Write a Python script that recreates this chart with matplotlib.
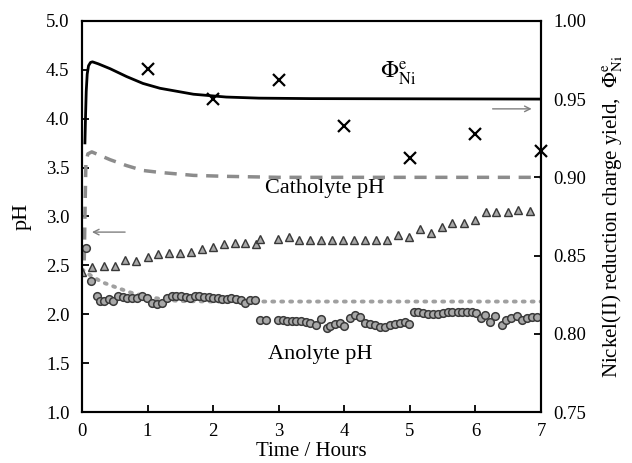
import matplotlib
matplotlib.use('Agg')
import matplotlib.pyplot as plt
import numpy as np

plt.rcParams['font.family'] = ['Liberation Serif', 'DejaVu Serif']
plt.rcParams['mathtext.fontset'] = 'stix'

# Catholyte pH (triangles)
cath_t = [0, 0.16, 0.33, 0.50, 0.66, 0.83, 1.0, 1.16, 1.33, 1.5, 1.66, 1.83, 2.0, 2.16,
          2.33, 2.49, 2.66, 2.71, 2.99, 3.16, 3.31, 3.48, 3.65, 3.81, 3.98, 4.15, 4.31,
          4.48, 4.65, 4.82, 4.98, 5.16, 5.32, 5.49, 5.65, 5.82, 5.99, 6.16, 6.32, 6.49,
          6.65, 6.83]
cath_ph = [2.435, 2.48, 2.49, 2.49, 2.55, 2.54, 2.59, 2.62, 2.63, 2.63, 2.64, 2.67, 2.69,
           2.72, 2.73, 2.73, 2.72, 2.77, 2.77, 2.79, 2.76, 2.76, 2.76, 2.76, 2.76, 2.76,
           2.76, 2.76, 2.76, 2.81, 2.79, 2.87, 2.83, 2.89, 2.93, 2.93, 2.96, 3.05, 3.05,
           3.05, 3.07, 3.06]

# Anolyte pH (circles)
ano_t = [0.066, 0.14, 0.23, 0.27, 0.34, 0.41, 0.48, 0.55, 0.62, 0.69, 0.76, 0.84, 0.92,
         0.99, 1.07, 1.14, 1.22, 1.29, 1.37, 1.44, 1.51, 1.58, 1.65, 1.72, 1.79, 1.86,
         1.93, 2.00, 2.07, 2.14, 2.21, 2.28, 2.35, 2.42, 2.48, 2.56, 2.64, 2.71, 2.80,
         2.99, 3.06, 3.13, 3.20, 3.27, 3.34, 3.41, 3.48, 3.57, 3.65, 3.73, 3.79, 3.86,
         3.93, 3.99, 4.08, 4.16, 4.24, 4.31, 4.39, 4.47, 4.55, 4.62, 4.70, 4.78, 4.85,
         4.93, 4.99, 5.06, 5.13, 5.20, 5.28, 5.36, 5.43, 5.51, 5.58, 5.65, 5.73, 5.80,
         5.87, 5.95, 6.01, 6.08, 6.15, 6.23, 6.30, 6.41, 6.47, 6.55, 6.63, 6.71, 6.78,
         6.86, 6.94]
ano_ph = [2.68, 2.34, 2.19, 2.14, 2.14, 2.16, 2.14, 2.19, 2.18, 2.17, 2.17, 2.17, 2.19,
          2.17, 2.12, 2.11, 2.12, 2.17, 2.19, 2.19, 2.19, 2.18, 2.17, 2.19, 2.19, 2.18,
          2.18, 2.17, 2.17, 2.16, 2.16, 2.17, 2.16, 2.15, 2.12, 2.15, 2.15, 1.94, 1.94,
          1.94, 1.94, 1.93, 1.93, 1.93, 1.93, 1.92, 1.91, 1.89, 1.95, 1.86, 1.88, 1.90,
          1.91, 1.88, 1.96, 1.99, 1.97, 1.91, 1.90, 1.89, 1.87, 1.87, 1.89, 1.90, 1.91,
          1.92, 1.90, 2.02, 2.02, 2.01, 2.00, 2.00, 2.00, 2.01, 2.02, 2.02, 2.02, 2.02,
          2.02, 2.02, 2.01, 1.96, 1.99, 1.92, 1.98, 1.89, 1.94, 1.96, 1.98, 1.94, 1.96,
          1.97, 1.97]

# Measured Ni(II) reduction charge yield (crosses, right axis)
phi_t = [1, 2, 3, 4, 5, 6, 7]
phi_meas = [0.969, 0.950, 0.9625, 0.933, 0.9125, 0.9275, 0.917]

# Model curve for charge yield (solid, right axis)
phi_mod_t = [0.045, 0.055, 0.065, 0.08, 0.1, 0.13, 0.16, 0.25, 0.43, 0.68, 0.93, 1.19,
             1.7, 2.2, 2.7, 3.5, 7]
phi_mod = [0.922, 0.940, 0.955, 0.966, 0.9713, 0.9734, 0.9738, 0.9725, 0.9694, 0.9644,
           0.960, 0.9569, 0.9531, 0.9513, 0.9506, 0.9503, 0.950]

# Model curve, catholyte (dashed, left axis)
cath_mod_t = [0.035, 0.045, 0.06, 0.09, 0.15, 0.43, 0.68, 0.93, 1.19, 1.7, 2.2, 3.0, 7]
cath_mod = [2.55, 3.0, 3.55, 3.64, 3.66, 3.58, 3.52, 3.47, 3.45, 3.42, 3.41, 3.40, 3.40]

# Model curve, anolyte (dotted, left axis)
ano_mod_t = [0, 0.1, 0.2, 0.3, 0.5, 0.75, 1.0, 1.25, 1.5, 2.0, 3.0, 7]
ano_mod = [2.46, 2.41, 2.37, 2.33, 2.28, 2.22, 2.18, 2.15, 2.135, 2.13, 2.13, 2.13]

fig = plt.figure(figsize=(6.32, 4.63), dpi=100)
ax = fig.add_axes([0.1297, 0.110, 0.7263, 0.845])
ax2 = ax.twinx()

ax.plot(cath_mod_t, cath_mod, color='#8c8c8c', lw=2.5, linestyle=(0, (3.5, 2.5)))
ax.plot(ano_mod_t, ano_mod, color='#a0a0a0', lw=2.8, linestyle=(0, (0.5, 1.8)),
        dash_capstyle='round')
ax.plot(cath_t, cath_ph, linestyle='none', marker='^', ms=6, mfc='#a8a8a8',
        mec='#383838', mew=1.0)
ax.plot(ano_t, ano_ph, linestyle='none', marker='o', ms=5.5, mfc='#a8a8a8',
        mec='#3a3a3a', mew=1.1)

ax2.plot(phi_mod_t, phi_mod, color='black', lw=2.0)
ax2.plot(phi_t, phi_meas, linestyle='none', marker='x', ms=9, mew=1.6, color='black',
         clip_on=False)

ax.set_xlim(0, 7)
ax.set_ylim(1.0, 5.0)
ax2.set_ylim(0.75, 1.00)
ax.set_xticks(np.arange(0, 8, 1))
ax.set_yticks(np.arange(1.0, 5.01, 0.5))
ax2.set_yticks(np.arange(0.75, 1.001, 0.05))
ax.set_yticklabels([f'{v:.1f}' for v in np.arange(1.0, 5.01, 0.5)])
ax2.set_yticklabels([f'{v:.2f}' for v in np.arange(0.75, 1.001, 0.05)])

for a in (ax, ax2):
    a.tick_params(direction='in', length=5, width=1.3, labelsize=13.5, pad=9)
    for s in a.spines.values():
        s.set_linewidth(1.5)
ax.tick_params(axis='x', pad=8)

ax.set_xlabel('Time / Hours', fontsize=15, labelpad=1)
ax.set_ylabel('pH', fontsize=16, labelpad=10)
ax2.set_ylabel(r'Nickel(II) reduction charge yield,  $\Phi^{\mathrm{e}}_{\mathrm{Ni}}$',
               fontsize=15, labelpad=10)

# Annotations
ax.text(4.82, 4.47, r'$\Phi^{\mathrm{e}}_{\mathrm{Ni}}$', fontsize=17, ha='center',
        va='center')
ax.text(3.7, 3.29, 'Catholyte pH', fontsize=16, ha='center', va='center')
ax.text(3.63, 1.59, 'Anolyte pH', fontsize=16, ha='center', va='center')
ax.annotate('', xy=(0.11, 2.84), xytext=(0.70, 2.84),
            arrowprops=dict(arrowstyle='->', color='#808080', lw=1.0))
ax.annotate('', xy=(6.9, 4.10), xytext=(6.22, 4.10),
            arrowprops=dict(arrowstyle='->', color='#808080', lw=1.0))

fig.savefig('out.png', dpi=100)
